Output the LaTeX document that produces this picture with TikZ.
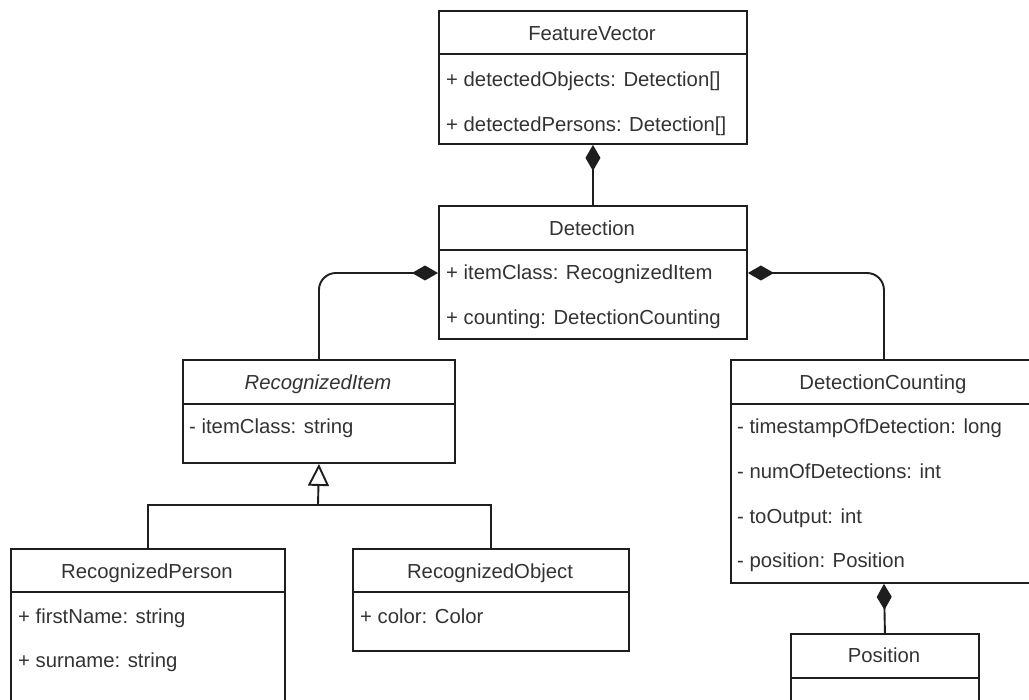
\documentclass[tikz,border=0pt]{standalone}
\usepackage{fontspec}
\setmainfont{Liberation Sans}
\usetikzlibrary{arrows.meta}
\definecolor{ink}{HTML}{1E1E1E}
\definecolor{txt}{HTML}{333333}
\tikzset{
  umlbox/.style={draw=ink, line width=1.9pt, rectangle, inner sep=0pt, anchor=north west, fill=white},
  hdr/.style={text=txt, inner sep=0pt, anchor=base, font=\fontsize{20.3}{24}\selectfont},
  attr/.style={hdr, anchor=base west},
  divider/.style={draw=ink, line width=1.9pt},
  link/.style={draw=ink, line width=1.9pt},
  comp/.style={link, {Diamond[length=26pt,width=15pt,fill=ink]}-},
  inherit/.style={link, -{Triangle[open,length=22pt,width=21pt,fill=white]}},
}
\begin{document}
\begin{tikzpicture}[x=1pt, y=-1pt]
\useasboundingbox (0,0) rectangle (1029,700);
\clip (0,0) rectangle (1029,700);
\fill[white] (0,0) rectangle (1029,700);

% FeatureVector
\node[umlbox, minimum width=308pt, minimum height=133pt] (fv) at (438,10) {};
\draw[divider] (438,54) -- (746,54);
\node[hdr] (fvT) at (592,40.5) {FeatureVector};
\node[attr] (fvA1) at (446,86.5) {+ detectedObjects: Detection[]};
\node[attr] (fvA2) at (446,131.5) {+ detectedPersons: Detection[]};

% Detection
\node[umlbox, minimum width=308pt, minimum height=133pt] (det) at (438,205) {};
\draw[divider] (438,250) -- (746,250);
\node[hdr] (detT) at (592,235.5) {Detection};
\node[attr] (detA1) at (446,280) {+ itemClass: RecognizedItem};
\node[attr] (detA2) at (446,325) {+ counting: DetectionCounting};

% RecognizedItem
\node[umlbox, minimum width=272pt, minimum height=103pt] (ri) at (182,359) {};
\draw[divider] (182,404) -- (454,404);
\node[hdr, font=\fontsize{20.3}{24}\selectfont\itshape] (riT) at (318,390) {RecognizedItem};
\node[attr] (riA1) at (189,434) {- itemClass: string};

% DetectionCounting
\node[umlbox, minimum width=306pt, minimum height=223pt] (dc) at (730,359) {};
\draw[divider] (730,404) -- (1036,404);
\node[hdr] (dcT) at (883,390) {DetectionCounting};
\node[attr] (dcA1) at (737,434) {- timestampOfDetection: long};
\node[attr] (dcA2) at (737,479) {- numOfDetections: int};
\node[attr] (dcA3) at (737,524) {- toOutput: int};
\node[attr] (dcA4) at (737,568) {- position: Position};

% RecognizedPerson
\node[umlbox, minimum width=274pt, minimum height=200pt] (rp) at (10,548) {};
\draw[divider] (10,592) -- (284,592);
\node[hdr] (rpT) at (147,578.5) {RecognizedPerson};
\node[attr] (rpA1) at (18,623.5) {+ firstName: string};
\node[attr] (rpA2) at (18,667.5) {+ surname: string};

% RecognizedObject
\node[umlbox, minimum width=276pt, minimum height=102pt] (ro) at (352,548) {};
\draw[divider] (352,592) -- (628,592);
\node[hdr] (roT) at (490,578.5) {RecognizedObject};
\node[attr] (roA1) at (360,623.5) {+ color: Color};

% Position
\node[umlbox, minimum width=188pt, minimum height=120pt] (pos) at (790,633) {};
\draw[divider] (790,678) -- (978,678);
\node[hdr] (posT) at (884,662.5) {Position};

% compositions
\draw[comp] (fv.south) -- (det.north);
\draw[comp, rounded corners=17pt] (det.west |- 0,273) -| (ri.north);
\draw[comp, rounded corners=17pt] (det.east |- 0,273) -| (dc.north);
\draw[comp] (dc.south) -- (pos.north);

% generalisation
\coordinate (join) at (318,505);
\draw[link] (rp.north) |- (join);
\draw[link] (ro.north) |- (join);
\draw[inherit] (join) -- (ri.south);
\end{tikzpicture}
\end{document}
